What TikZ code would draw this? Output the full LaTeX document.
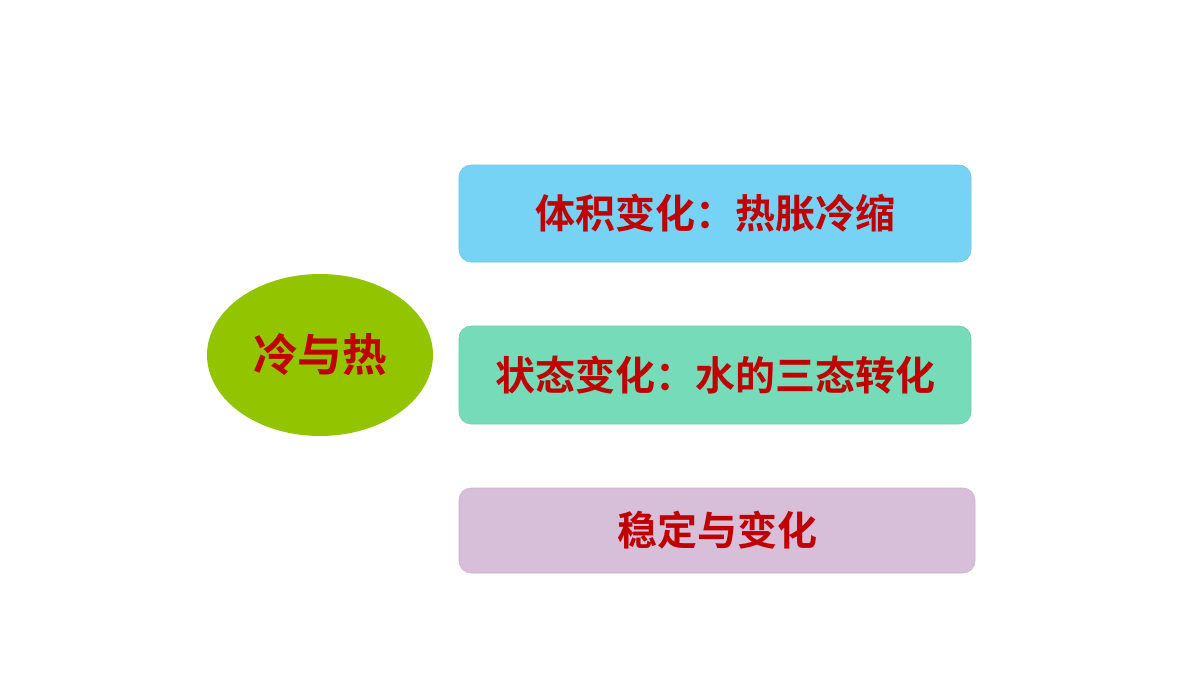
\documentclass[tikz,border=0pt]{standalone}
\usepackage{fontspec}
\usepackage{tikz}
\usetikzlibrary{shapes.geometric}
\newfontfamily\cjk{Noto Sans CJK SC}[BoldFont=Noto Sans CJK SC Bold]
\definecolor{topicgreen}{HTML}{92C500}
\definecolor{boxblue}{HTML}{76D3F6}
\definecolor{boxmint}{HTML}{75DBB9}
\definecolor{boxlilac}{HTML}{D7BFDA}
\definecolor{textred}{HTML}{C00000}
\tikzset{
  topic/.style={ellipse, fill=topicgreen, inner sep=0pt, minimum width=169.5pt, minimum height=121.5pt,
    font=\cjk\bfseries\fontsize{33.5}{36}\selectfont, text=textred},
  item/.style={rounded corners=9pt, draw=#1!93!black, line width=0.4pt, fill=#1, inner sep=0pt, minimum width=384pt,
    font=\cjk\bfseries\fontsize{30}{34}\selectfont, text=textred}
}
\begin{document}
\begin{tikzpicture}[x=0.75pt, y=-0.75pt]
\useasboundingbox (0,0) rectangle (1200,675);
 \node[topic] (topic) at (320,355) {冷与热};
 \node[item=boxblue, minimum height=72.75pt] (volume) at (715,213.5) {体积变化：热胀冷缩};
 \node[item=boxmint, minimum height=73.5pt] (state) at (715,375) {状态变化：水的三态转化};
 \node[item=boxlilac, minimum width=387pt, minimum height=63.75pt] (steady) at (717,530.5) {稳定与变化};
\end{tikzpicture}
\end{document}
